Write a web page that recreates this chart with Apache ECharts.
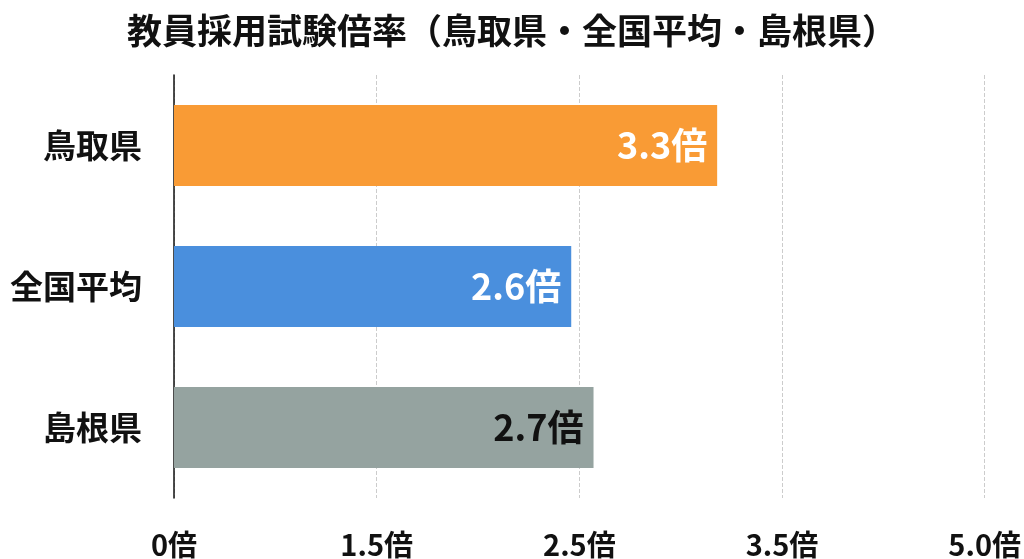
<!DOCTYPE html>
<html><head><meta charset="utf-8">
<script src="https://cdn.jsdelivr.net/npm/echarts@6/dist/echarts.min.js"></script>
<style>html,body{margin:0;padding:0;background:#fff}#chart{width:1024px;height:559px}</style>
</head><body><div id="chart"></div>
<script>
// categories top to bottom
const categories = ['鳥取県', '全国平均', '島根県'];
// bar lengths, in axis tick units
const barLengths = [2.68, 1.96, 2.07];
const barLabels = ['3.3倍', '2.6倍', '2.7倍'];
const barColors = ['#F99B35', '#4A8FDD', '#95A3A0'];
const labelColors = ['#fff', '#fff', '#111'];
const tickLabels = ['0倍', '1.5倍', '2.5倍', '3.5倍', '5.0倍'];

const chart = echarts.init(document.getElementById('chart'));
chart.setOption({
    textStyle: {fontFamily: 'Noto Sans CJK JP'},
    title: {
        text: '教員採用試験倍率（鳥取県・全国平均・島根県）',
        left: 'center', top: 8,
        textStyle: {fontSize: 35, fontWeight: 'bold', color: '#111'},
    },
    grid: {left: 174, right: 39, top: 75, bottom: 59},
    xAxis: {
        type: 'value', min: 0, max: 4, interval: 1,
        axisLine: {show: false}, axisTick: {show: false},
        splitLine: {lineStyle: {type: 'dashed', color: '#ccc'}},
        axisLabel: {
            formatter: (v) => tickLabels[Math.round(v)],
            fontSize: 29, fontWeight: 'bold', color: '#111', margin: 32,
        },
    },
    yAxis: {
        type: 'category', inverse: true, data: categories,
        axisLine: {lineStyle: {color: '#111', width: 1.5}},
        axisTick: {show: false},
        axisLabel: {fontSize: 33, fontWeight: 'bold', color: '#111', margin: 32},
    },
    series: [{
        type: 'bar', barWidth: 81,
        data: barLengths.map((v, i) => ({
            value: v,
            itemStyle: {color: barColors[i]},
            label: {
                show: true, position: 'insideRight', distance: 10,
                formatter: barLabels[i], color: labelColors[i],
                fontSize: 36, fontWeight: 'bold',
            },
        })),
    }],
});
</script></body></html>
